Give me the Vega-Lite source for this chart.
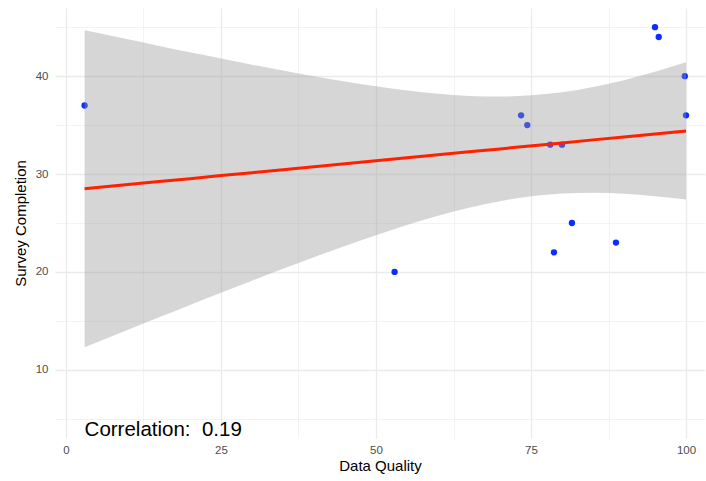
{
  "$schema": "https://vega.github.io/schema/vega-lite/v6.json",
  "width": 650,
  "height": 430,
  "autosize": "none",
  "padding": {"left": 55, "top": 8, "right": 1, "bottom": 43},
  "background": "white",
  "config": {
    "view": {"stroke": null},
    "font": "Liberation Sans",
    "axis": {
      "domain": false,
      "ticks": false,
      "gridColor": "#ebebeb",
      "labelColor": "#4d4d4d",
      "labelFontSize": 11.5,
      "titleFontSize": 15,
      "titleFontWeight": "normal",
      "titleColor": "#000000"
    }
  },
  "datasets": {
    "points": [
      {"quality": 3, "completion": 37},
      {"quality": 53, "completion": 20},
      {"quality": 73.4, "completion": 36},
      {"quality": 74.4, "completion": 35},
      {"quality": 78.1, "completion": 33},
      {"quality": 80, "completion": 33},
      {"quality": 78.7, "completion": 22},
      {"quality": 81.6, "completion": 25},
      {"quality": 88.7, "completion": 23},
      {"quality": 95, "completion": 45},
      {"quality": 95.6, "completion": 44},
      {"quality": 99.8, "completion": 40},
      {"quality": 100, "completion": 36}
    ],
    "band": [
      {"quality": 3, "fit": 28.5, "lower": 12.3, "upper": 44.7},
      {"quality": 5, "fit": 28.62, "lower": 12.81, "upper": 44.43},
      {"quality": 10, "fit": 28.93, "lower": 14.1, "upper": 43.76},
      {"quality": 15, "fit": 29.23, "lower": 15.37, "upper": 43.09},
      {"quality": 20, "fit": 29.53, "lower": 16.63, "upper": 42.43},
      {"quality": 25, "fit": 29.84, "lower": 17.88, "upper": 41.8},
      {"quality": 30, "fit": 30.14, "lower": 19.11, "upper": 41.17},
      {"quality": 35, "fit": 30.45, "lower": 20.33, "upper": 40.57},
      {"quality": 40, "fit": 30.75, "lower": 21.51, "upper": 39.99},
      {"quality": 45, "fit": 31.05, "lower": 22.65, "upper": 39.45},
      {"quality": 50, "fit": 31.36, "lower": 23.76, "upper": 38.96},
      {"quality": 55, "fit": 31.66, "lower": 24.79, "upper": 38.53},
      {"quality": 60, "fit": 31.97, "lower": 25.74, "upper": 38.2},
      {"quality": 65, "fit": 32.27, "lower": 26.56, "upper": 37.98},
      {"quality": 70, "fit": 32.57, "lower": 27.23, "upper": 37.91},
      {"quality": 73, "fit": 32.76, "lower": 27.56, "upper": 37.96},
      {"quality": 77, "fit": 33.0, "lower": 27.86, "upper": 38.14},
      {"quality": 80, "fit": 33.18, "lower": 28.01, "upper": 38.35},
      {"quality": 85, "fit": 33.49, "lower": 28.09, "upper": 38.89},
      {"quality": 90, "fit": 33.79, "lower": 27.99, "upper": 39.59},
      {"quality": 95, "fit": 34.09, "lower": 27.74, "upper": 40.44},
      {"quality": 100, "fit": 34.4, "lower": 27.39, "upper": 41.41}
    ],
    "note": [
      {"quality": 3, "completion": 5, "label": "Correlation:\u00a0 0.19"}
    ]
  },
  "layer": [
    {
      "data": {"name": "points"},
      "mark": {"type": "circle", "size": 40, "color": "#0a2eff", "opacity": 1},
      "encoding": {
        "x": {
          "field": "quality", "type": "quantitative",
          "scale": {"domain": [-1.77, 103.06], "nice": false, "zero": false},
          "axis": {
            "title": "Data Quality",
            "values": [0, 12.5, 25, 37.5, 50, 62.5, 75, 87.5, 100],
            "labelExpr": "datum.value % 25 === 0 ? datum.label : ''",
            "gridWidth": {"condition": {"test": "datum.value % 25 === 0", "value": 1.3}, "value": 0.6},
            "labelPadding": 6,
            "titlePadding": 3
          }
        },
        "y": {
          "field": "completion", "type": "quantitative",
          "scale": {"domain": [3.04, 46.96], "nice": false, "zero": false},
          "axis": {
            "title": "Survey Completion",
            "values": [5, 10, 15, 20, 25, 30, 35, 40, 45],
            "labelExpr": "datum.value % 10 === 0 ? datum.label : ''",
            "gridWidth": {"condition": {"test": "datum.value % 10 === 0", "value": 1.3}, "value": 0.6},
            "labelPadding": 7,
            "titlePadding": 7
          }
        }
      }
    },
    {
      "data": {"name": "band"},
      "mark": {"type": "area", "color": "#999999", "opacity": 0.4, "interpolate": "monotone"},
      "encoding": {
        "x": {"field": "quality", "type": "quantitative"},
        "y": {"field": "lower", "type": "quantitative"},
        "y2": {"field": "upper"}
      }
    },
    {
      "data": {"name": "band"},
      "mark": {"type": "line", "color": "#ff2000", "strokeWidth": 3},
      "encoding": {
        "x": {"field": "quality", "type": "quantitative"},
        "y": {"field": "fit", "type": "quantitative"}
      }
    },
    {
      "data": {"name": "note"},
      "mark": {"type": "text", "align": "left", "baseline": "top", "fontSize": 20.5, "color": "#000000", "dy": 1},
      "encoding": {
        "x": {"field": "quality", "type": "quantitative"},
        "y": {"field": "completion", "type": "quantitative"},
        "text": {"field": "label"}
      }
    }
  ]
}
